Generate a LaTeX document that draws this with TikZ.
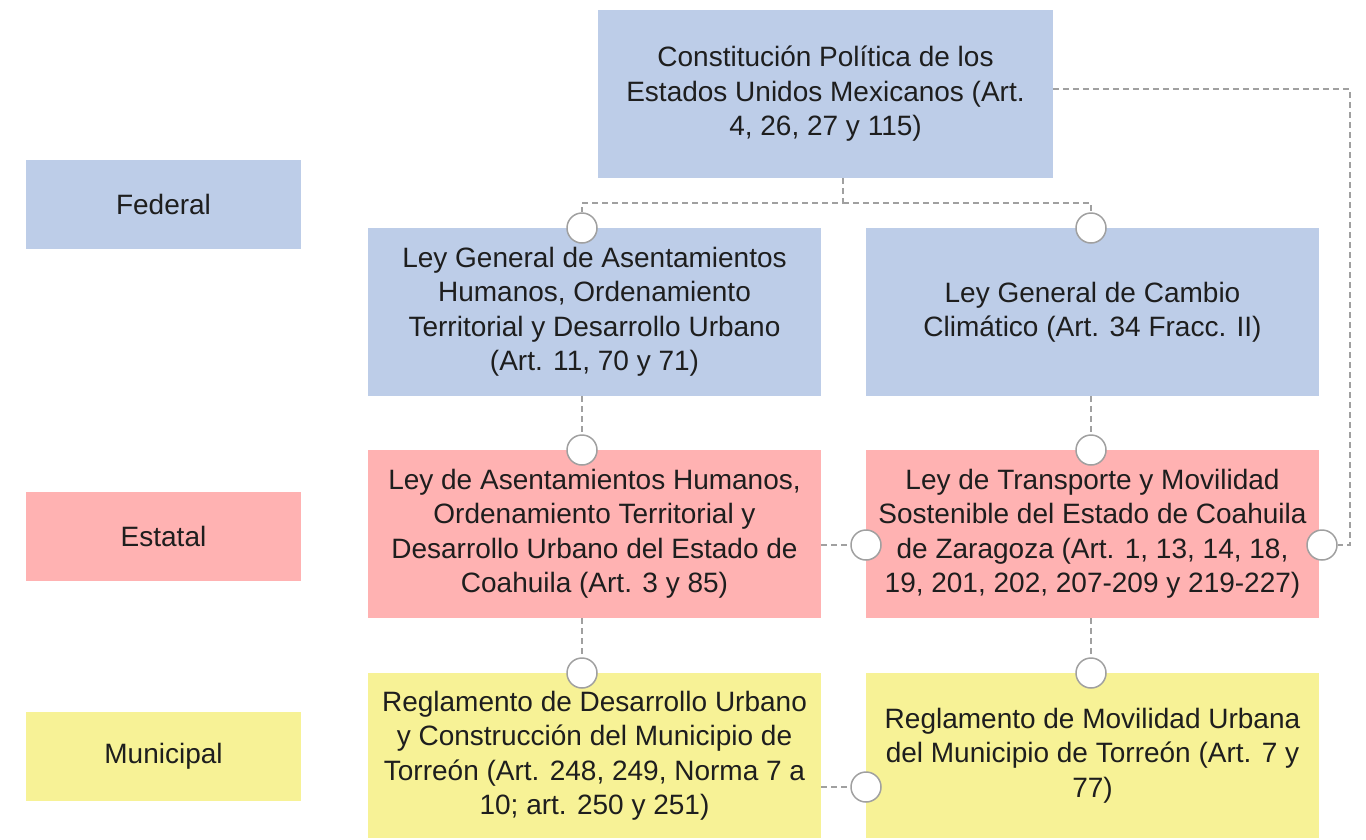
\documentclass[tikz,border=0pt]{standalone}
\usepackage{fontspec}
\setmainfont{Liberation Sans}
\usetikzlibrary{positioning,calc}

\definecolor{fedblue}{RGB}{189,205,232}
\definecolor{estred}{RGB}{255,178,178}
\definecolor{munyellow}{RGB}{247,242,150}
\definecolor{linkgray}{RGB}{160,160,160}
\definecolor{textgray}{RGB}{30,30,30}

\begin{document}
\begin{tikzpicture}[
    x=1pt, y=-1pt,
    box/.style={rectangle, minimum width=453pt, minimum height=168pt, inner sep=0pt,
        align=center, text=textgray, font=\fontsize{28}{34.5}\selectfont},
    level/.style={rectangle, minimum width=275pt, minimum height=89pt, inner sep=0pt,
        text=textgray, font=\fontsize{28}{34.5}\selectfont},
    joint/.style={circle, draw=linkgray, line width=1.5pt, fill=white, minimum size=30pt, inner sep=0pt},
    link/.style={draw=linkgray, line width=1.5pt, dash pattern=on 6pt off 4pt}
]
    \useasboundingbox (0,0) rectangle (1366,839);

    % Levels
    \node[level, fill=fedblue] (federal) at (163.5,204.5) {Federal};
    \node[level, fill=estred] (estatal) at (163.5,536.5) {Estatal};
    \node[level, fill=munyellow] (municipal) at (163.5,756.5) {Municipal};

    % Federal
    \node[box, fill=fedblue, minimum width=455pt] (const) at (825.5,94) {Constitución Política de los\\ Estados Unidos Mexicanos (Art.\\ 4, 26, 27 y 115)};
    \node[box, fill=fedblue] (lgah) at (594.5,312) {Ley General de Asentamientos\\ Humanos, Ordenamiento\\ Territorial y Desarrollo Urbano\\ (Art. 11, 70 y 71)};
    \node[box, fill=fedblue] (lgcc) at (1092.5,312) {Ley General de Cambio\\ Climático (Art. 34 Fracc. II)};

    % Estatal
    \node[box, fill=estred] (lahc) at (594.5,534) {Ley de Asentamientos Humanos,\\ Ordenamiento Territorial y\\ Desarrollo Urbano del Estado de\\ Coahuila (Art. 3 y 85)};
    \node[box, fill=estred] (ltms) at (1092.5,534) {Ley de Transporte y Movilidad\\ Sostenible del Estado de Coahuila\\ de Zaragoza (Art. 1, 13, 14, 18,\\ 19, 201, 202, 207-209 y 219-227)};

    % Municipal
    \node[box, fill=munyellow, minimum height=165pt] (rduc) at (594.5,755.5) {Reglamento de Desarrollo Urbano\\ y Construcción del Municipio de\\ Torreón (Art. 248, 249, Norma 7 a\\ 10; art. 250 y 251)};
    \node[box, fill=munyellow, minimum height=165pt] (rmu) at (1092.5,755.5) {Reglamento de Movilidad Urbana\\ del Municipio de Torreón (Art. 7 y\\ 77)};

    % Joints
    \node[joint] (j-lgah) at (582,228) {};
    \node[joint] (j-lgcc) at (1091,228) {};
    \node[joint] (j-lahc) at (582,450) {};
    \node[joint] (j-ltms) at (1091,450) {};
    \node[joint] (j-ltms-l) at (866,545) {};
    \node[joint] (j-ltms-r) at (1322,545) {};
    \node[joint] (j-rduc) at (582,673) {};
    \node[joint] (j-rmu) at (1091,673) {};
    \node[joint] (j-rmu-l) at (866,787) {};

    % Links
    \coordinate (split) at ([xshift=17.5pt]const.south);
    \draw[link] (split) -- ++(0,25) coordinate (fork) -| (j-lgah);
    \draw[link] (fork) -| (j-lgcc);
    \draw[link] (const.east |- 0,89) -- (1350,89) |- (j-ltms-r);
    \draw[link] (lgah.south -| j-lahc) -- (j-lahc);
    \draw[link] (lgcc.south -| j-ltms) -- (j-ltms);
    \draw[link] (lahc.south -| j-rduc) -- (j-rduc);
    \draw[link] (ltms.south -| j-rmu) -- (j-rmu);
    \draw[link] (lahc.east |- j-ltms-l) -- (j-ltms-l);
    \draw[link] (rduc.east |- j-rmu-l) -- (j-rmu-l);
\end{tikzpicture}
\end{document}
